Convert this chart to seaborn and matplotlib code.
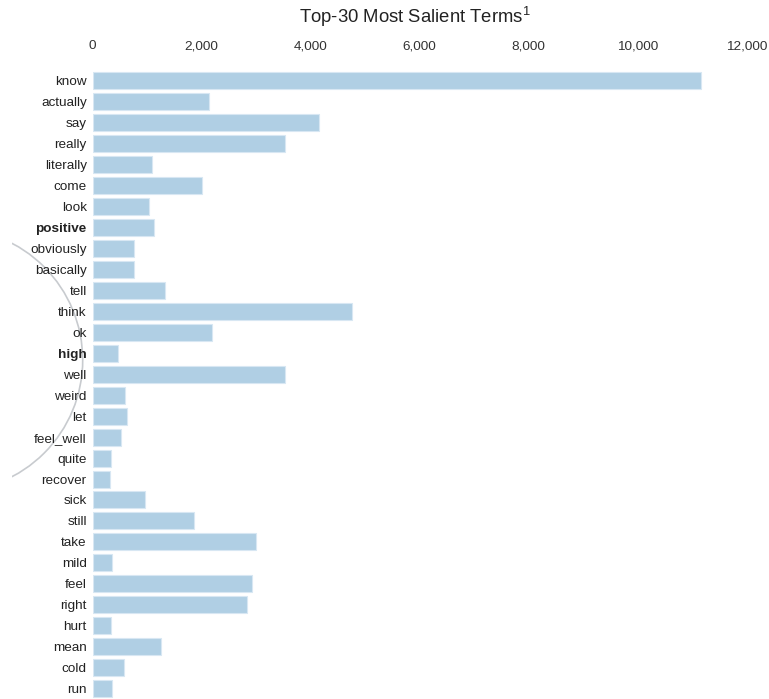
import matplotlib
matplotlib.use("Agg")
import matplotlib.pyplot as plt
import seaborn as sns
import pandas as pd
from matplotlib.patches import Circle
from matplotlib.ticker import FuncFormatter

terms = ["know", "actually", "say", "really", "literally", "come", "look",
         "positive", "obviously", "basically", "tell", "think", "ok", "high",
         "well", "weird", "let", "feel_well", "quite", "recover", "sick",
         "still", "take", "mild", "feel", "right", "hurt", "mean", "cold", "run"]
freq = [11160, 2130, 4150, 3520, 1080, 2000, 1030,
        1130, 760, 760, 1330, 4750, 2180, 470,
        3520, 590, 630, 520, 340, 320, 960,
        1860, 2990, 360, 2920, 2840, 330, 1250, 580, 360]
bold_terms = ["positive", "high"]
xticks = [0, 2000, 4000, 6000, 8000, 10000, 12000]
title = "Top-30 Most Salient Terms"

sns.set_theme(style="white")
plt.rcParams['font.family'] = ['Liberation Sans', 'DejaVu Sans']
plt.rcParams['mathtext.fontset'] = 'custom'
plt.rcParams['mathtext.rm'] = 'Liberation Sans'
plt.rcParams['mathtext.it'] = 'Liberation Sans'

W, H = 769, 699
fig = plt.figure(figsize=(W / 100, H / 100), dpi=100)

left = 92.7 / W
right = 746.7 / W
top = 1 - 70.5 / H
ax = fig.add_axes([left, 0.0, right - left, top])

df = pd.DataFrame({"term": terms, "freq": freq})
sns.barplot(data=df, y="term", x="freq", orient="h", color="#b0cfe4",
            saturation=1, width=0.81, edgecolor="#d8e7f3", linewidth=0.8, ax=ax)

ax.set_xlim(0, 12000)
ax.set_ylim(len(terms) - 0.5, -0.5)
ax.set_xticks(xticks)
ax.xaxis.set_major_formatter(FuncFormatter(lambda v, p: f"{int(v):,}"))
ax.xaxis.tick_top()
ax.tick_params(axis="x", length=0, pad=13, labelsize=9.7, labelcolor="#333333")
ax.tick_params(axis="y", length=0, pad=4.3, labelsize=9.7, labelcolor="#222222")
ax.set_xlabel("")
ax.set_ylabel("")
for s in ax.spines.values():
    s.set_visible(False)
ax.grid(False)
for lab in ax.get_yticklabels():
    if lab.get_text() in bold_terms:
        lab.set_fontweight("bold")

# decorative arc from neighbouring panel
ax2 = fig.add_axes([12 / W, 0, 1 - 12 / W, 1], zorder=-1)
ax2.set_xlim(12, W)
ax2.set_ylim(H, 0)
ax2.axis("off")
ax2.patch.set_alpha(0)
ax2.add_patch(Circle((-49, 360), 131.7, fill=False, edgecolor="#c8cbcf", linewidth=1.2))

fig.text(415 / W, 1 - 17 / H, title + "$^{1}$", ha="center", va="center",
         fontsize=13.3, color="#222222")

fig.savefig("out.png", dpi=100)
